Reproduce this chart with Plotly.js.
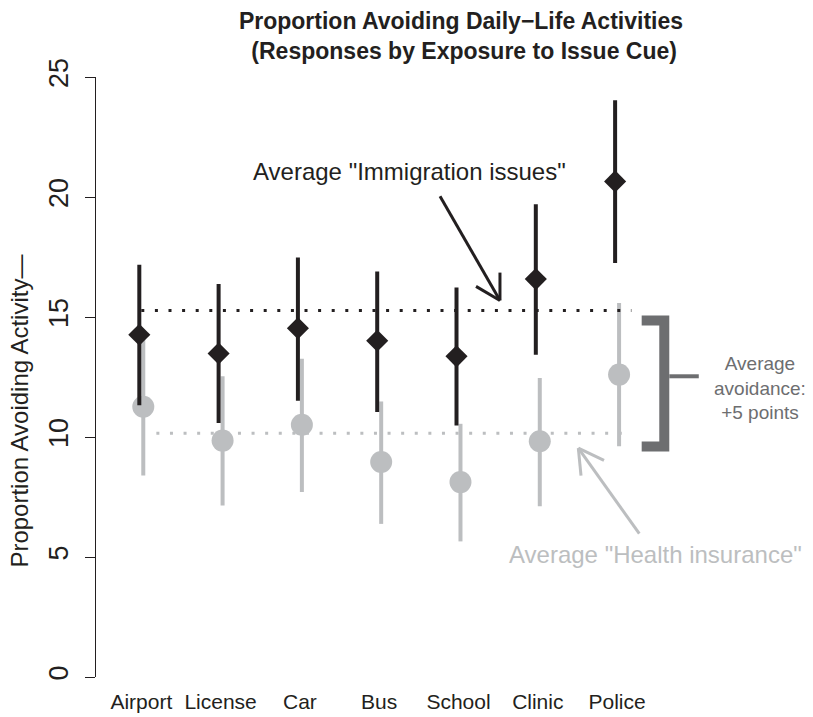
<!DOCTYPE html>
<html>
<head>
<meta charset="utf-8">
<script src="https://cdn.plot.ly/plotly-3.0.1.min.js"></script>
<style>html,body{margin:0;padding:0;background:#fff}#chart{width:813px;height:717px}</style>
</head>
<body>
<div id="chart"></div>
<script>
// ---- data ----
const categories = ['Airport', 'License', 'Car', 'Bus', 'School', 'Clinic', 'Police'];
const immigMean = [14.26, 13.48, 14.53, 14.01, 13.36, 16.58, 20.65];
const immigLow  = [11.32, 10.58, 11.51, 11.04, 10.48, 13.43, 17.25];
const immigHigh = [17.18, 16.37, 17.48, 16.90, 16.23, 19.70, 24.03];
const healthMean = [11.26, 9.85, 10.51, 8.96, 8.12, 9.82, 12.60];
const healthLow  = [8.40, 7.15, 7.71, 6.38, 5.65, 7.11, 9.61];
const healthHigh = [14.10, 12.53, 13.26, 11.48, 10.55, 12.46, 15.58];
const yTicks = [0, 5, 10, 15, 20, 25];

// ---- styling ----
const FONT = 'Liberation Sans, Arial, Helvetica, sans-serif';
const BLACK = '#231f20';
const GREY = '#bcbec0';
const DARKGREY = '#6d6e70';
const OFF = 0.025;

const pos = categories.map((c, i) => i + 1);
const xImm = pos.map(p => p - OFF);
const xHea = pos.map(p => p + OFF);

function segs(xs, lo, hi) {
  const X = [], Y = [];
  xs.forEach((x, i) => { X.push(x, x, null); Y.push(lo[i], hi[i], null); });
  return {X, Y};
}
const mean = a => a.reduce((s, v) => s + v, 0) / a.length;
const immAvg = mean(immigMean);
const heaAvg = mean(healthMean);

const sI = segs(xImm, immigLow, immigHigh);
const sH = segs(xHea, healthLow, healthHigh);

const traces = [
  {x: [1.19, 7.18], y: [heaAvg, heaAvg], mode: 'lines', line: {color: GREY, width: 3, dash: '3px,10.6px'}, hoverinfo: 'skip', showlegend: false},
  {x: sH.X, y: sH.Y, mode: 'lines', line: {color: GREY, width: 4}, connectgaps: false, hoverinfo: 'skip', showlegend: false, cliponaxis: false},
  {x: xHea, y: healthMean, mode: 'markers', marker: {symbol: 'circle', size: 22, color: GREY}, name: 'Health insurance', showlegend: false, cliponaxis: false},
  {x: [1.0, 7.18], y: [immAvg, immAvg], mode: 'lines', line: {color: BLACK, width: 3, dash: '3px,10.6px'}, hoverinfo: 'skip', showlegend: false},
  {x: sI.X, y: sI.Y, mode: 'lines', line: {color: BLACK, width: 4}, connectgaps: false, hoverinfo: 'skip', showlegend: false, cliponaxis: false},
  {x: xImm, y: immigMean, mode: 'markers', marker: {symbol: 'diamond', size: 17, color: BLACK}, name: 'Immigration issues', showlegend: false, cliponaxis: false}
];

function ln(x0, y0, x1, y1, color, width) {
  return {type: 'line', xref: 'x', yref: 'y', x0, y0, x1, y1, line: {color, width}, layer: 'above'};
}

const shapes = [
  // black arrow
  ln(4.767, 20.03, 5.523, 15.69, BLACK, 3),
  ln(5.221, 16.275, 5.523, 15.69, BLACK, 3),
  ln(5.523, 16.85, 5.523, 15.69, BLACK, 3),
  // grey arrow
  ln(7.280, 5.97, 6.511, 9.54, GREY, 3),
  ln(6.835, 9.025, 6.511, 9.54, GREY, 3),
  ln(6.545, 8.39, 6.511, 9.54, GREY, 3),
  // bracket
  {type: 'path', xref: 'x', yref: 'y', path: 'M 7.31 14.85 L 7.595 14.85 L 7.595 9.60 L 7.31 9.60', line: {color: DARKGREY, width: 10}, layer: 'above'},
  ln(7.658, 12.53, 8.03, 12.53, DARKGREY, 4)
];

const annotations = [
  {x: 4.388, y: 21.05, xref: 'x', yref: 'y', text: 'Average "Immigration issues"', showarrow: false, xanchor: 'center', yanchor: 'middle', font: {family: FONT, size: 24, color: BLACK}},
  {x: 7.488, y: 5.10, xref: 'x', yref: 'y', text: 'Average "Health insurance"', showarrow: false, xanchor: 'center', yanchor: 'middle', font: {family: FONT, size: 24, color: GREY}},
  {x: 8.80, y: 12.05, xref: 'x', yref: 'y', text: 'Average<br>avoidance:<br>+5 points', showarrow: false, xanchor: 'center', yanchor: 'middle', align: 'center', font: {family: FONT, size: 19, color: DARKGREY}},
  {x: -0.106, y: 11.1, xref: 'paper', yref: 'y', text: 'Proportion Avoiding Activity\u2014', textangle: -90, showarrow: false, xanchor: 'center', yanchor: 'middle', font: {family: FONT, size: 24, color: BLACK}}
];

const layout = {
  width: 813, height: 717,
  margin: {l: 96, r: 0, t: 77, b: 40},
  paper_bgcolor: '#fff', plot_bgcolor: '#fff',
  showlegend: false,
  font: {family: FONT, color: BLACK},
  title: {
    text: '<b>Proportion Avoiding Daily\u2212Life Activities<br> (Responses by Exposure to Issue Cue)</b>',
    font: {family: FONT, size: 23, color: BLACK},
    xref: 'container', x: 0.567, xanchor: 'center',
    yref: 'container', y: 0.96, yanchor: 'top'
  },
  xaxis: {
    range: [0.4288, 9.4704], tickvals: pos, ticktext: categories,
    showline: false, showgrid: false, zeroline: false, ticks: '',
    tickfont: {family: FONT, size: 21, color: BLACK}, ticklabelstandoff: 10
  },
  yaxis: {
    range: [0, 25], tickvals: yTicks, ticktext: yTicks.map(String),
    showline: true, linecolor: BLACK, linewidth: 1,
    ticks: 'outside', ticklen: 10, tickcolor: BLACK, tickwidth: 1,
    showgrid: false, zeroline: false, tickangle: -90,
    tickfont: {family: FONT, size: 27, color: BLACK}, ticklabelstandoff: 6
  },
  shapes, annotations
};

Plotly.newPlot('chart', traces, layout, {displayModeBar: false, staticPlot: true});
</script>
</body>
</html>
